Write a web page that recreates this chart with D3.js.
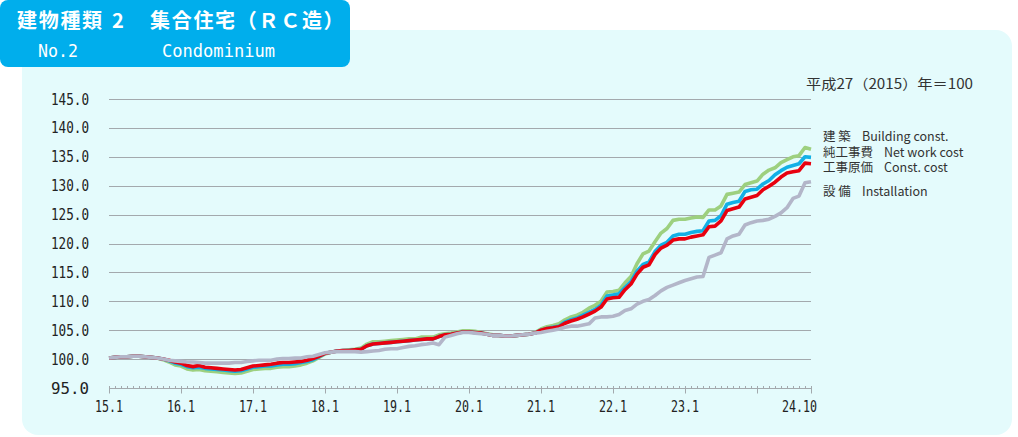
<!DOCTYPE html>
<html><head><meta charset="utf-8">
<script src="https://cdn.jsdelivr.net/npm/d3@7"></script>
<style>html,body{margin:0;padding:0;background:#fff;}svg{display:block;}</style>
</head><body>
<svg id="c" width="1018" height="437"></svg>
<script>
// ---- data ----
const startMonth = new Date(2015, 0, 1);
const endMonth = new Date(2024, 9, 1);
const months = d3.timeMonth.range(startMonth, d3.timeMonth.offset(endMonth, 1));

const seriesNames = ["建 築", "純工事費", "工事原価", "設 備"];
const seriesEnglish = ["Building const.", "Net work cost", "Const. cost", "Installation"];

const building = [
100.2,100.3,100.4,100.4,100.5,100.5,100.4,100.3,100.2,99.9,99.5,99.0,
98.8,98.3,98.1,98.2,98.0,97.9,97.8,97.7,97.6,97.5,97.6,97.9,
98.2,98.3,98.4,98.4,98.6,98.7,98.7,98.8,99.0,99.3,99.7,100.3,
100.9,101.2,101.4,101.5,101.6,101.7,101.9,102.6,103.0,103.0,103.1,103.2,
103.3,103.4,103.5,103.5,103.8,103.8,103.8,104.2,104.4,104.5,104.7,104.9,
104.9,104.8,104.6,104.4,104.2,104.1,104.0,104.0,104.1,104.2,104.3,104.6,
105.2,105.6,105.8,106.1,106.8,107.3,107.6,108.1,108.8,109.3,110.0,111.6,
111.7,111.9,113.2,114.3,116.5,118.2,118.7,120.3,121.8,122.6,124.0,124.2,
124.2,124.4,124.6,124.5,125.8,125.8,126.5,128.5,128.7,128.9,130.2,130.5,
130.8,132.0,132.7,133.1,134.0,134.5,135.0,135.2,136.6,136.3];

const netWork = [
100.2,100.3,100.4,100.4,100.5,100.5,100.4,100.3,100.2,100.0,99.7,99.3,
99.1,98.7,98.5,98.6,98.4,98.3,98.2,98.1,98.0,97.9,98.0,98.3,
98.6,98.7,98.8,98.8,99.0,99.1,99.1,99.2,99.4,99.6,99.9,100.4,
101.0,101.2,101.4,101.5,101.5,101.6,101.7,102.3,102.6,102.7,102.8,102.9,
103.0,103.1,103.2,103.3,103.4,103.5,103.5,103.9,104.2,104.3,104.5,104.7,
104.7,104.6,104.5,104.3,104.1,104.1,104.0,104.0,104.1,104.2,104.3,104.5,
105.0,105.3,105.5,105.7,106.4,106.8,107.1,107.6,108.1,108.6,109.3,110.9,
111.1,111.3,112.4,113.4,115.2,116.4,116.8,118.6,119.7,120.2,121.3,121.6,
121.6,121.9,122.1,122.2,123.9,124.0,124.8,126.8,127.1,127.3,129.0,129.3,
129.4,130.3,130.9,131.9,132.6,133.2,133.5,133.8,135.0,134.9];

const constCost = [
100.2,100.3,100.4,100.4,100.5,100.5,100.4,100.3,100.2,100.0,99.8,99.5,
99.3,98.9,98.7,98.9,98.6,98.5,98.4,98.3,98.2,98.1,98.2,98.5,
98.8,98.9,99.0,99.1,99.3,99.4,99.4,99.5,99.6,99.8,100.1,100.5,
101.0,101.2,101.4,101.5,101.5,101.6,101.7,102.3,102.6,102.7,102.8,102.9,
103.0,103.1,103.2,103.3,103.4,103.5,103.5,103.9,104.2,104.3,104.5,104.7,
104.7,104.6,104.5,104.3,104.1,104.1,104.0,104.0,104.1,104.2,104.3,104.5,
105.0,105.3,105.4,105.6,106.2,106.6,106.9,107.3,107.8,108.3,109.0,110.4,
110.6,110.7,112.0,113.0,114.7,115.9,116.3,118.1,119.2,119.7,120.6,120.8,
120.8,121.1,121.3,121.5,122.9,123.0,123.9,125.7,126.0,126.3,127.7,128.0,
128.3,129.3,129.9,130.6,131.5,132.2,132.4,132.6,133.9,133.8];

const installation = [
100.2,100.3,100.4,100.4,100.5,100.5,100.4,100.3,100.2,100.0,99.8,99.7,
99.6,99.5,99.5,99.4,99.3,99.3,99.3,99.3,99.3,99.4,99.4,99.6,
99.7,99.8,99.8,99.8,100.0,100.1,100.1,100.2,100.2,100.4,100.5,100.8,
101.1,101.2,101.3,101.3,101.3,101.3,101.2,101.3,101.4,101.5,101.7,101.8,
101.8,102.0,102.2,102.3,102.5,102.6,102.8,102.5,103.8,104.1,104.4,104.6,
104.6,104.5,104.4,104.3,104.1,104.1,104.0,104.0,104.1,104.2,104.3,104.5,
104.6,104.8,105.0,105.2,105.5,105.7,105.7,105.9,106.1,107.1,107.3,107.3,
107.4,107.7,108.4,108.7,109.5,110.0,110.3,111.0,111.8,112.4,112.8,113.2,
113.6,113.9,114.2,114.3,117.6,118.0,118.4,120.8,121.3,121.6,123.2,123.6,
123.9,124.0,124.2,124.7,125.3,126.2,127.8,128.2,130.5,130.7];

const yTickValues = [95,100,105,110,115,120,125,130,135,140,145];
const xTickLabels = ["15.1","16.1","17.1","18.1","19.1","20.1","21.1","22.1","23.1","24.10"];
const xTickMonthIdx = [0,12,24,36,48,60,72,84,96,117];
const majorTickIdx = [0,12,24,36,48,60,72,84,96,108,117];
const unitLabel = "平成27（2015）年＝100";

// ---- drawing ----
const svg = d3.select("#c");
const colors = ["#9dd07f", "#12b0e6", "#e8000f", "#b3b6c9"];
const jpFont = "'Noto Sans CJK JP', 'Noto Sans', sans-serif";
const monoFont = "'DejaVu Sans Mono', 'Liberation Mono', monospace";

// panel
svg.append("rect").attr("x", 22).attr("y", 30).attr("width", 990).attr("height", 405)
  .attr("rx", 16).attr("fill", "#e4fbfc");
// header
svg.append("rect").attr("x", 0).attr("y", 0).attr("width", 350).attr("height", 67)
  .attr("rx", 8).attr("fill", "#00aeec");
const t1 = svg.append("text").attr("y", 28).attr("fill", "#fff")
  .attr("font-family", jpFont).attr("font-weight", "bold").attr("font-size", 20);
t1.append("tspan").attr("x", 17).attr("letter-spacing", 1.7).text("建物種類");
t1.append("tspan").attr("x", 112).text("2");
t1.append("tspan").attr("x", 150).attr("letter-spacing", 1.7).text("集合住宅（ＲＣ造）");
svg.append("text").attr("x", 38).attr("y", 57).attr("fill", "#fff")
  .attr("font-family", monoFont).attr("font-size", 18)
  .attr("textLength", 40).attr("lengthAdjust", "spacingAndGlyphs").text("No.2");
svg.append("text").attr("x", 162).attr("y", 57).attr("fill", "#fff")
  .attr("font-family", monoFont).attr("font-size", 18)
  .attr("textLength", 113).attr("lengthAdjust", "spacingAndGlyphs").text("Condominium");

const x = d3.scaleLinear().domain([0, months.length - 1]).range([109, 811]);
const y = d3.scaleLinear().domain([95, 145]).range([388, 99]);

// gridlines
svg.append("g").selectAll("line").data(yTickValues.filter(v => v > 95)).join("line")
  .attr("x1", 109).attr("x2", 811)
  .attr("y1", d => Math.round(y(d)) + 0.5).attr("y2", d => Math.round(y(d)) + 0.5)
  .attr("stroke", "#a3a9ad").attr("stroke-width", 1);

// y labels
svg.append("g").selectAll("text").data(yTickValues).join("text")
  .attr("x", 89).attr("y", d => y(d) + 5.5).attr("text-anchor", "end")
  .attr("font-family", monoFont).attr("font-size", 15).attr("fill", "#222")
  .attr("textLength", 38).attr("lengthAdjust", "spacingAndGlyphs")
  .text(d => d3.format(".1f")(d));

// lines
const seriesData = [building, netWork, constCost, installation];
const line = d3.line().x((d, i) => x(i)).y(d => y(d)).curve(d3.curveLinear);
svg.append("g").selectAll("path").data(seriesData).join("path")
  .attr("d", d => line(d)).attr("fill", "none")
  .attr("stroke", (d, i) => colors[i]).attr("stroke-width", 3.6)
  .attr("stroke-linejoin", "round").attr("stroke-linecap", "butt");

// x axis
const axisY = 388.5;
const ax = svg.append("g").attr("stroke", "#a3a9ad");
ax.append("line").attr("x1", 109).attr("x2", 811).attr("y1", axisY).attr("y2", axisY);
ax.selectAll("line.minor").data(d3.range(months.length)).join("line").attr("class", "minor")
  .attr("x1", i => Math.round(x(i)) + 0.5).attr("x2", i => Math.round(x(i)) + 0.5)
  .attr("y1", axisY - 2.5).attr("y2", axisY);
ax.selectAll("line.major").data(majorTickIdx).join("line").attr("class", "major")
  .attr("x1", i => Math.round(x(i)) + 0.5).attr("x2", i => Math.round(x(i)) + 0.5)
  .attr("y1", axisY - 2.5).attr("y2", axisY + 5);

svg.append("g").selectAll("text").data(xTickLabels).join("text")
  .attr("x", (d, i) => i === xTickLabels.length - 1 ? x(xTickMonthIdx[i]) + 6 : x(xTickMonthIdx[i]))
  .attr("y", 412)
  .attr("text-anchor", (d, i) => i === xTickLabels.length - 1 ? "end" : "middle")
  .attr("font-family", monoFont).attr("font-size", 15).attr("fill", "#222")
  .attr("textLength", d => d.length * 7).attr("lengthAdjust", "spacingAndGlyphs")
  .text(d => d);

// unit label
svg.append("text").attr("x", 806).attr("y", 89).attr("font-family", jpFont)
  .attr("font-size", 14).attr("fill", "#333")
  .attr("textLength", 167).attr("lengthAdjust", "spacingAndGlyphs").text(unitLabel);

// legend
const legendY = [141, 157, 172, 196];
const legendEnX = [862, 884, 884, 862];
const lg = svg.append("g").attr("font-family", jpFont).attr("font-size", 12.5).attr("fill", "#333");
seriesNames.forEach((n, i) => {
  const t = lg.append("text").attr("y", legendY[i]);
  t.append("tspan").attr("x", 823).text(n);
  t.append("tspan").attr("x", legendEnX[i]).text(seriesEnglish[i]);
});
</script>
</body></html>
